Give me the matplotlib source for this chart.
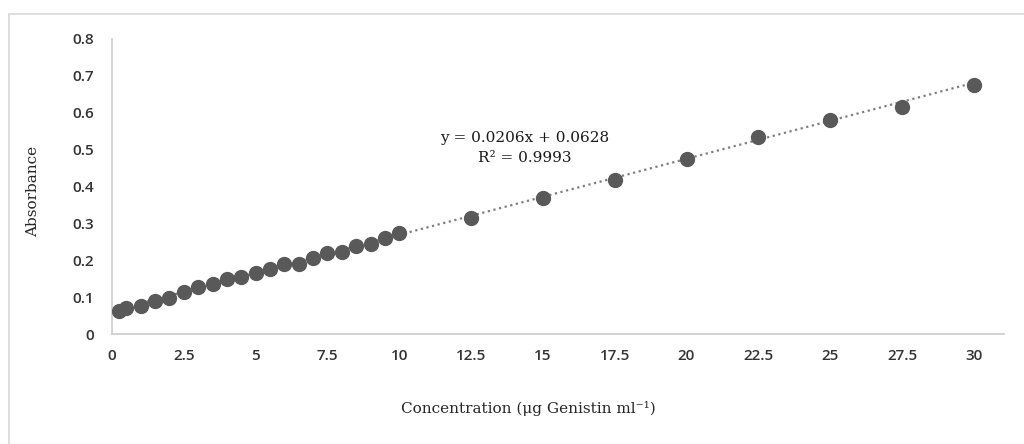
import matplotlib
matplotlib.use("Agg")
import matplotlib.pyplot as plt
from matplotlib.patches import Rectangle
import numpy as np

concentration = [0.25, 0.5, 1, 1.5, 2, 2.5, 3, 3.5, 4, 4.5, 5, 5.5, 6, 6.5, 7, 7.5,
                 8, 8.5, 9, 9.5, 10, 12.5, 15, 17.5, 20, 22.5, 25, 27.5, 30]
absorbance = [0.062, 0.070, 0.077, 0.089, 0.097, 0.115, 0.127, 0.135, 0.148, 0.155,
              0.164, 0.175, 0.190, 0.189, 0.205, 0.219, 0.223, 0.238, 0.243, 0.259,
              0.273, 0.314, 0.368, 0.417, 0.474, 0.533, 0.580, 0.616, 0.675]
x_ticks = [0, 2.5, 5, 7.5, 10, 12.5, 15, 17.5, 20, 22.5, 25, 27.5, 30]
x_tick_labels = ["0", "2.5", "5", "7.5", "10", "12.5", "15", "17.5", "20", "22.5", "25", "27.5", "30"]
y_ticks = [0, 0.1, 0.2, 0.3, 0.4, 0.5, 0.6, 0.7, 0.8]
y_tick_labels = ["0", "0.1", "0.2", "0.3", "0.4", "0.5", "0.6", "0.7", "0.8"]
slope = 0.0206
intercept = 0.0628
r2 = 0.9993

W, H = 1024, 444
fig = plt.figure(figsize=(W / 100, H / 100), dpi=100)
fig.patch.set_facecolor("white")
fig.patches.append(Rectangle((9 / W, -0.1), 1.2, (444 - 14) / H + 0.1,
                             transform=fig.transFigure, fill=False,
                             edgecolor="#d9d9d9", linewidth=1.2))

ax = fig.add_axes([112 / W, (H - 334) / H, (1004 - 112) / W, (334 - 38.8) / H])
ax.set_xlim(0, 31.05)
ax.set_ylim(0, 0.8)

fit_x = np.array([min(concentration), max(concentration)])
ax.plot(fit_x, slope * fit_x + intercept, linestyle=(0, (1, 1.6)), color="#7f7f7f",
        linewidth=1.6, zorder=2)
ax.plot(concentration, absorbance, linestyle="none", marker="o", markersize=10,
        markerfacecolor="#595959", markeredgecolor="#595959", zorder=3)

for s in ["top", "right"]:
    ax.spines[s].set_visible(False)
for s in ["left", "bottom"]:
    ax.spines[s].set_color("#d0d0d0")
    ax.spines[s].set_linewidth(1.3)

ax.set_xticks(x_ticks)
ax.set_xticklabels(x_tick_labels)
ax.set_yticks(y_ticks)
ax.set_yticklabels(y_tick_labels)
ax.tick_params(axis="both", length=0, labelsize=11, labelcolor="#333333")
ax.tick_params(axis="y", pad=13)
ax.tick_params(axis="x", pad=11)
for lab in ax.get_xticklabels() + ax.get_yticklabels():
    lab.set_family(["Open Sans", "DejaVu Sans"])
    lab.set_fontweight("semibold")

serif = ["DejaVu Serif"]
fig.text(33 / W, 1 - 191 / H, "Absorbance", rotation=90, ha="center", va="center",
         fontsize=11, family=serif, color="#262626")
fig.text(528 / W, 1 - 408 / H, "Concentration (μg Genistin ml⁻¹)", ha="center",
         va="center", fontsize=11, family=serif, color="#262626")
fig.text(525 / W, 1 - 138 / H, f"y = {slope}x + {intercept}", ha="center", va="center",
         fontsize=11, family=serif, color="#1a1a1a")
fig.text(525 / W, 1 - 158 / H, f"R² = {r2}", ha="center", va="center",
         fontsize=11, family=serif, color="#1a1a1a")

fig.savefig("out.png", dpi=100)
